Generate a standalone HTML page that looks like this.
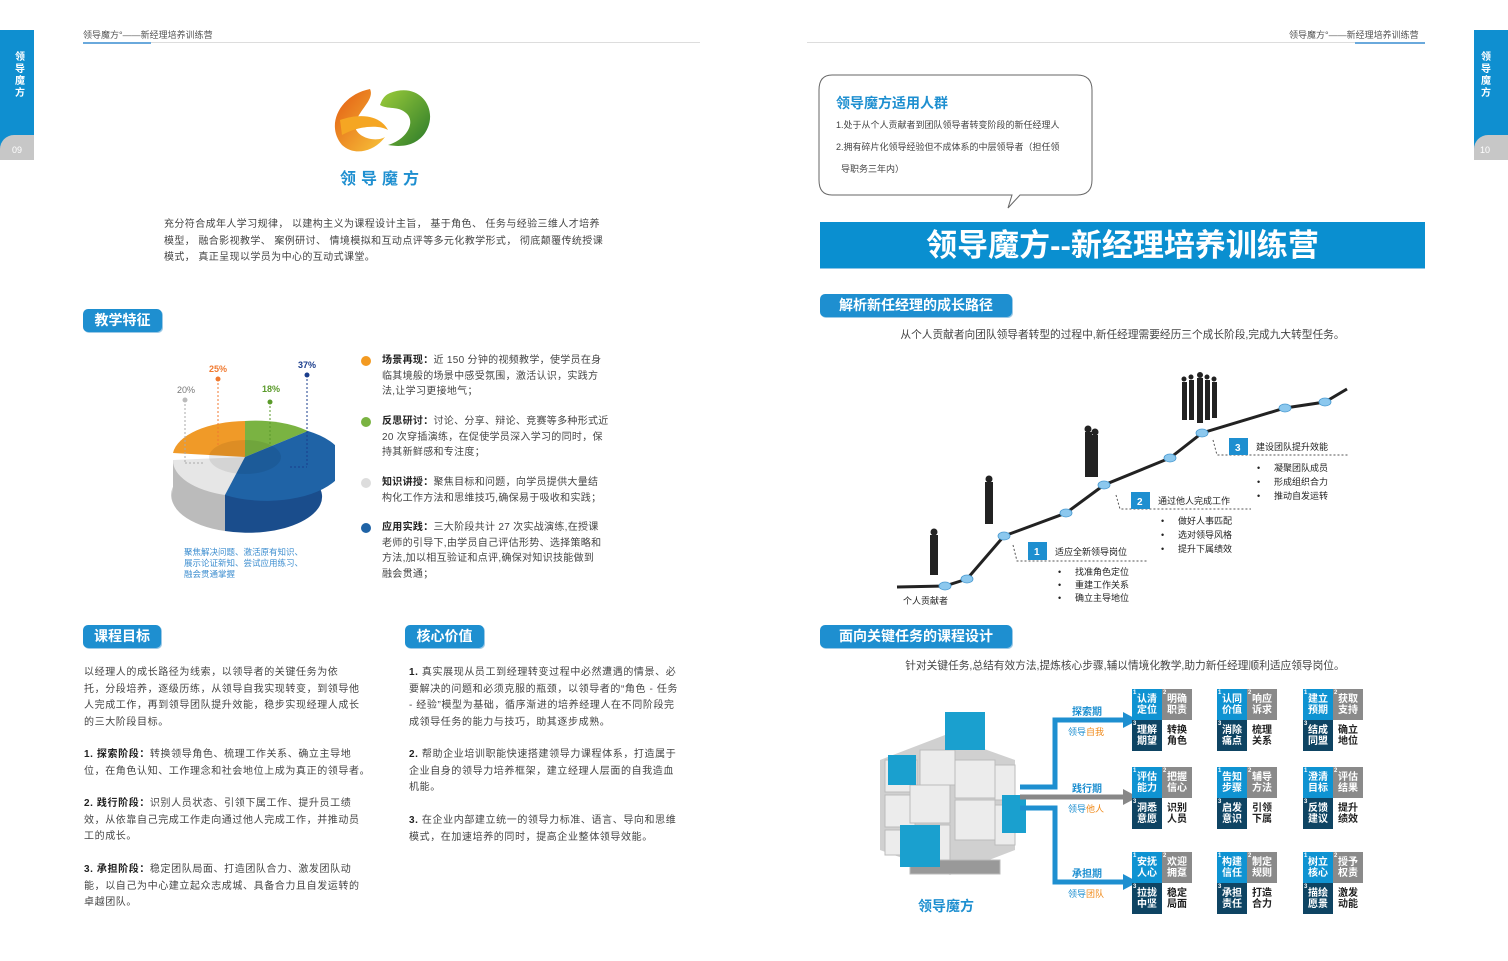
<!DOCTYPE html>
<html><head><meta charset="utf-8">
<style>
*{margin:0;padding:0;box-sizing:border-box}
body{width:1508px;height:961px;background:#fff;position:relative;overflow:hidden;font-family:"Liberation Sans","Noto Sans CJK SC",sans-serif;color:#444}
.a{position:absolute}
.t{font-size:10px;line-height:16.5px;color:#444;white-space:nowrap;letter-spacing:0.6px}
.badge{position:absolute;background:#1e8fd0;color:#fff;font-weight:bold;font-size:14px;border-radius:5px;text-align:center;line-height:23px;box-shadow:1px 1px 0 #9cc9e6}
.hdr{font-size:9px;color:#555}
b{color:#222}
.blk{position:absolute;width:60px;height:62px}
.blk div{position:absolute;width:30px;height:31px;font-size:10px;font-weight:bold;line-height:11px;text-align:center;padding-top:5px}
.c1{left:0;top:0;background:#0f93d2;color:#fff}
.c2{left:30px;top:0;background:#8a8a8a;color:#fff}
.c3{left:0;top:31px;background:#0e4463;color:#fff}
.c4{left:30px;top:31px;color:#222;font-weight:normal}
.blk sup{position:absolute;left:1px;top:-1px;font-size:6px;color:#fff}
</style></head><body>

<!-- left tab -->
<div class="a" style="left:0;top:30px;width:34px;height:130px;background:#0f8fd0"></div>
<div class="a" style="left:0;top:135px;width:34px;height:25px;background:#c7c7c7;border-radius:14px 0 0 0"></div>
<div class="a" style="left:15px;top:52px;width:14px;font-size:10px;font-weight:bold;color:#fff;line-height:12px">领导魔方</div>
<div class="a" style="left:12px;top:145px;font-size:9px;color:#fff">09</div>
<!-- right tab -->
<div class="a" style="left:1474px;top:30px;width:34px;height:130px;background:#0f8fd0"></div>
<div class="a" style="left:1474px;top:135px;width:34px;height:25px;background:#c7c7c7;border-radius:14px 0 0 0"></div>
<div class="a" style="left:1481px;top:52px;width:14px;font-size:10px;font-weight:bold;color:#fff;line-height:12px">领导魔方</div>
<div class="a" style="left:1480px;top:145px;font-size:9px;color:#fff">10</div>

<!-- headers -->
<div class="a hdr" style="left:83px;top:28px">领导魔方°——新经理培养训练营</div>
<div class="a" style="left:83px;top:42px;width:617px;height:1px;background:#ddd"></div>
<div class="a" style="left:83px;top:42px;width:68px;height:2px;background:#6aa9dc"></div>
<div class="a hdr" style="left:1289px;top:28px">领导魔方°——新经理培养训练营</div>
<div class="a" style="left:807px;top:42px;width:618px;height:1px;background:#ddd"></div>
<div class="a" style="left:1355px;top:42px;width:70px;height:2px;background:#6aa9dc"></div>

<!-- logo -->
<svg class="a" style="left:330px;top:85px" width="110" height="75">
<defs><linearGradient id="og" x1="0" y1="0" x2="1" y2="1"><stop offset="0" stop-color="#e35a12"/><stop offset="1" stop-color="#f7c43a"/></linearGradient>
<linearGradient id="gg" x1="0" y1="0" x2="1" y2="1"><stop offset="0" stop-color="#9ccc3a"/><stop offset="1" stop-color="#2a7a2a"/></linearGradient></defs>
<path d="M40 4 C10 10 -5 40 12 60 C25 72 45 66 55 52 C45 58 25 52 25 40 C28 25 45 15 40 4Z" fill="url(#og)"/>
<path d="M10 35 C30 28 50 30 58 45 C50 40 30 40 12 50Z" fill="#f5a623"/>
<path d="M60 8 C90 -4 110 25 95 48 C85 62 70 62 58 60 C75 55 85 40 78 30 C70 20 58 25 50 20 C52 14 55 10 60 8Z" fill="url(#gg)"/>
</svg>
<div class="a" style="left:340px;top:165px;font-size:16px;font-weight:bold;color:#1e8fd0;letter-spacing:5px">领导魔方</div>

<div class="a t" style="left:164px;top:217px;letter-spacing:0.4px">充分符合成年人学习规律， 以建构主义为课程设计主旨， 基于角色、 任务与经验三维人才培养<br>模型， 融合影视教学、 案例研讨、 情境模拟和互动点评等多元化教学形式， 彻底颠覆传统授课<br>模式， 真正呈现以学员为中心的互动式课堂。</div>

<div class="badge" style="left:83px;top:309px;width:79px">教学特征</div>

<!-- pie -->
<svg class="a" style="left:165px;top:355px" width="170" height="190">
<ellipse cx="80" cy="140" rx="74" ry="36" fill="#ccc"/>
<path d="M8 105 L8 135 A74 36 0 0 0 60 176 L60 140 Z" fill="#bbb"/>
<path d="M60 140 L60 176 A74 36 0 0 0 153 130 L153 100 Z" fill="#1a4d8c"/>
<path d="M80 102 L8 105 A74 36 0 0 0 60 140 Z" fill="#e6e6e6"/>
<path d="M80 102 L8 98 A74 36 0 0 1 80 66 Z" fill="#f09a28"/>
<path d="M80 102 L80 66 A74 36 0 0 1 143 76 Z" fill="#7ab342"/>
<path d="M80 102 L143 76 A74 36 0 0 1 60 140 Z" fill="#1f63a6"/>
<ellipse cx="80" cy="102" rx="36" ry="17" fill="#000" opacity="0.08"/>
<g stroke-dasharray="2,2" stroke-width="1" fill="none">
<line x1="20" y1="45" x2="20" y2="108" stroke="#aaa"/><line x1="20" y1="108" x2="40" y2="108" stroke="#aaa"/>
<line x1="53" y1="24" x2="53" y2="90" stroke="#f07a30"/>
<line x1="105" y1="47" x2="105" y2="90" stroke="#5a9a2a"/>
<line x1="142" y1="20" x2="142" y2="112" stroke="#1a3d8c"/><line x1="125" y1="112" x2="142" y2="112" stroke="#1a3d8c"/>
</g>
<circle cx="20" cy="45" r="2.5" fill="#bbb"/><circle cx="53" cy="24" r="2.5" fill="#f07a30"/><circle cx="105" cy="47" r="2.5" fill="#5a9a2a"/><circle cx="142" cy="20" r="2.5" fill="#1a3d8c"/>
<text x="12" y="38" font-size="9" fill="#777">20%</text>
<text x="44" y="17" font-size="9" fill="#f07a30" font-weight="bold">25%</text>
<text x="97" y="37" font-size="9" fill="#5a9a2a" font-weight="bold">18%</text>
<text x="133" y="13" font-size="9" fill="#1a3d8c" font-weight="bold">37%</text>
</svg>
<div class="a" style="left:184px;top:547px;font-size:8.5px;line-height:11px;color:#3f8fd0;white-space:nowrap">聚焦解决问题、激活原有知识、<br>展示论证新知、尝试应用练习、<br>融会贯通掌握</div>

<div class="a" style="left:361px;top:356px;width:10px;height:10px;border-radius:50%;background:#f39a21"></div>
<div class="a" style="left:361px;top:417px;width:10px;height:10px;border-radius:50%;background:#7ab342"></div>
<div class="a" style="left:361px;top:478px;width:10px;height:10px;border-radius:50%;background:#ddd"></div>
<div class="a" style="left:361px;top:523px;width:10px;height:10px;border-radius:50%;background:#1f63a6"></div>
<div class="a t" style="left:382px;top:353px;line-height:15.5px;letter-spacing:0.3px"><b>场景再现：</b>近 150 分钟的视频教学，使学员在身<br>临其境般的场景中感受氛围，激活认识，实践方<br>法,让学习更接地气；</div>
<div class="a t" style="left:382px;top:414px;line-height:15.5px;letter-spacing:0.3px"><b>反思研讨：</b>讨论、分享、辩论、竞赛等多种形式近<br>20 次穿插演练，在促使学员深入学习的同时，保<br>持其新鲜感和专注度；</div>
<div class="a t" style="left:382px;top:475px;line-height:15.5px;letter-spacing:0.3px"><b>知识讲授：</b>聚焦目标和问题，向学员提供大量结<br>构化工作方法和思维技巧,确保易于吸收和实践；</div>
<div class="a t" style="left:382px;top:520px;line-height:15.5px;letter-spacing:0.3px"><b>应用实践：</b>三大阶段共计 27 次实战演练,在授课<br>老师的引导下,由学员自己评估形势、选择策略和<br>方法,加以相互验证和点评,确保对知识技能做到<br>融会贯通；</div>

<div class="badge" style="left:83px;top:625px;width:78px">课程目标</div>
<div class="badge" style="left:405px;top:625px;width:79px">核心价值</div>

<div class="a t" style="left:84px;top:665px">以经理人的成长路径为线索，以领导者的关键任务为依<br>托，分段培养，逐级历练，从领导自我实现转变，到领导他<br>人完成工作，再到领导团队提升效能，稳步实现经理人成长<br>的三大阶段目标。</div>
<div class="a t" style="left:84px;top:747px"><b>1. 探索阶段：</b>转换领导角色、梳理工作关系、确立主导地<br>位，在角色认知、工作理念和社会地位上成为真正的领导者。</div>
<div class="a t" style="left:84px;top:796px"><b>2. 践行阶段：</b>识别人员状态、引领下属工作、提升员工绩<br>效，从依靠自己完成工作走向通过他人完成工作，并推动员<br>工的成长。</div>
<div class="a t" style="left:84px;top:862px"><b>3. 承担阶段：</b>稳定团队局面、打造团队合力、激发团队动<br>能，以自己为中心建立起众志成城、具备合力且自发运转的<br>卓越团队。</div>

<div class="a t" style="left:409px;top:665px"><b>1.</b> 真实展现从员工到经理转变过程中必然遭遇的情景、必<br>要解决的问题和必须克服的瓶颈，以领导者的“角色 - 任务<br>- 经验”模型为基础，循序渐进的培养经理人在不同阶段完<br>成领导任务的能力与技巧，助其逐步成熟。</div>
<div class="a t" style="left:409px;top:747px"><b>2.</b> 帮助企业培训职能快速搭建领导力课程体系，打造属于<br>企业自身的领导力培养框架，建立经理人层面的自我造血<br>机能。</div>
<div class="a t" style="left:409px;top:813px"><b>3.</b> 在企业内部建立统一的领导力标准、语言、导向和思维<br>模式，在加速培养的同时，提高企业整体领导效能。</div>

<!-- right page -->
<svg class="a" style="left:815px;top:72px" width="285" height="140">
<path d="M17 3 H262 Q277 3 277 18 V108 Q277 123 262 123 H205 L193 136 L197 123 H17 Q4 123 4 108 V18 Q4 3 17 3Z" fill="#fff" stroke="#666" stroke-width="1"/>
</svg>
<div class="a" style="left:836px;top:93px;font-size:14px;font-weight:bold;color:#1e8fd0">领导魔方适用人群</div>
<div class="a" style="left:836px;top:114px;font-size:9px;line-height:22px;color:#444;white-space:nowrap">1.处于从个人贡献者到团队领导者转变阶段的新任经理人<br>2.拥有碎片化领导经验但不成体系的中层领导者（担任领<br>&nbsp;&nbsp;导职务三年内）</div>

<div class="a" style="left:820px;top:222px;width:605px;height:47px;background:#0a8fd0;color:#fff;font-size:31px;font-weight:bold;text-align:center;line-height:47px;border-bottom:1px solid #8cc4e6">领导魔方--新经理培养训练营</div>

<div class="badge" style="left:820px;top:294px;width:192px">解析新任经理的成长路径</div>
<div class="a" style="left:820px;top:327px;width:605px;text-align:center;font-size:10.7px;color:#444">从个人贡献者向团队领导者转型的过程中,新任经理需要经历三个成长阶段,完成九大转型任务。</div>

<svg class="a" style="left:880px;top:370px" width="490" height="245">
<polyline points="17,217 65,216 87,209 124,166 186,143 224,115 290,88 322,63 405,38 445,32 467,19" fill="none" stroke="#222" stroke-width="3"/>
<g fill="#8cc8ee" stroke="#4a9ad0" stroke-width="0.8">
<ellipse cx="65" cy="216" rx="6" ry="4"/><ellipse cx="87" cy="209" rx="6" ry="4"/><ellipse cx="124" cy="166" rx="6" ry="4"/><ellipse cx="186" cy="143" rx="6" ry="4"/><ellipse cx="224" cy="115" rx="6" ry="4"/><ellipse cx="290" cy="88" rx="6" ry="4"/><ellipse cx="322" cy="63" rx="6" ry="4"/><ellipse cx="405" cy="38" rx="6" ry="4"/><ellipse cx="445" cy="32" rx="6" ry="4"/>
</g>
<g fill="none" stroke="#555" stroke-dasharray="2,2">
<polyline points="133,175 137,191 268,191"/><polyline points="236,125 240,139 371,139"/><polyline points="333,70 337,85 468,85"/>
</g>
<g fill="#222">
<rect x="50" y="165" width="8" height="40"/><circle cx="54" cy="162" r="3.5"/>
<rect x="105" y="112" width="8" height="42"/><circle cx="109" cy="109" r="3.5"/>
<rect x="205" y="62" width="7" height="45"/><circle cx="208" cy="59" r="3.5"/><rect x="212" y="65" width="6" height="42"/><circle cx="215" cy="62" r="3.5"/>
<rect x="302" y="12" width="5" height="38"/><rect x="309" y="10" width="5" height="40"/><rect x="317" y="8" width="6" height="45"/><rect x="325" y="10" width="5" height="40"/><rect x="332" y="12" width="5" height="36"/>
<circle cx="304" cy="9" r="2.5"/><circle cx="311" cy="7" r="2.5"/><circle cx="320" cy="5" r="3"/><circle cx="327" cy="7" r="2.5"/><circle cx="334" cy="9" r="2.5"/>
</g>
<rect x="148" y="172" width="19" height="18" fill="#1e8fd0"/><text x="154" y="185" font-size="10" fill="#fff" font-weight="bold">1</text>
<rect x="251" y="122" width="19" height="17" fill="#1e8fd0"/><text x="257" y="135" font-size="10" fill="#fff" font-weight="bold">2</text>
<rect x="349" y="68" width="19" height="17" fill="#1e8fd0"/><text x="355" y="81" font-size="10" fill="#fff" font-weight="bold">3</text>
<g font-size="9" fill="#222">
<text x="175" y="185">适应全新领导岗位</text><text x="278" y="134">通过他人完成工作</text><text x="376" y="80">建设团队提升效能</text>
<text x="23" y="234">个人贡献者</text>
<text x="178" y="205">•</text><text x="195" y="205">找准角色定位</text>
<text x="178" y="218">•</text><text x="195" y="218">重建工作关系</text>
<text x="178" y="231">•</text><text x="195" y="231">确立主导地位</text>
<text x="281" y="154">•</text><text x="298" y="154">做好人事匹配</text>
<text x="281" y="168">•</text><text x="298" y="168">选对领导风格</text>
<text x="281" y="182">•</text><text x="298" y="182">提升下属绩效</text>
<text x="377" y="101">•</text><text x="394" y="101">凝聚团队成员</text>
<text x="377" y="115">•</text><text x="394" y="115">形成组织合力</text>
<text x="377" y="129">•</text><text x="394" y="129">推动自发运转</text>
</g>
</svg>

<div class="badge" style="left:820px;top:625px;width:192px">面向关键任务的课程设计</div>
<div class="a" style="left:820px;top:658px;width:610px;text-align:center;font-size:10.7px;color:#444">针对关键任务,总结有效方法,提炼核心步骤,辅以情境化教学,助力新任经理顺利适应领导岗位。</div>

<!-- cube -->
<svg class="a" style="left:870px;top:700px" width="270" height="195">
<path d="M10 60 L75 35 L145 60 L145 150 L80 175 L10 150Z" fill="#d0d0d0"/>
<g fill="#ececec" stroke="#bbb" stroke-width="1">
<rect x="15" y="60" width="32" height="32"/><rect x="15" y="95" width="30" height="32"/><rect x="15" y="130" width="30" height="25"/>
<rect x="50" y="50" width="35" height="35"/><rect x="85" y="60" width="40" height="38"/><rect x="85" y="100" width="40" height="40"/>
<rect x="125" y="65" width="20" height="35"/><rect x="125" y="105" width="20" height="40"/>
<rect x="40" y="85" width="40" height="38"/><rect x="45" y="125" width="35" height="35"/>
<rect x="40" y="160" width="90" height="14" fill="#999"/>
</g>
<g fill="#1aa0cf"><rect x="18" y="55" width="28" height="30"/><rect x="75" y="12" width="40" height="38"/><rect x="30" y="125" width="40" height="42"/><rect x="132" y="95" width="24" height="38"/></g>
<path d="M150 87 H185 V20 H255" fill="none" stroke="#1e8fd0" stroke-width="5"/><path d="M253 12 L268 20 L253 28Z" fill="#1e8fd0"/>
<path d="M150 97 H255" fill="none" stroke="#888" stroke-width="5"/><path d="M253 89 L268 97 L253 105Z" fill="#888"/>
<path d="M150 108 H185 V182 H255" fill="none" stroke="#1e8fd0" stroke-width="5"/><path d="M253 174 L268 182 L253 190Z" fill="#1e8fd0"/>
</svg>
<div class="a" style="left:1072px;top:703px;font-size:10px;font-weight:bold;color:#1e8fd0">探索期</div>
<div class="a" style="left:1068px;top:725px;font-size:9px;color:#1e8fd0">领导<span style="color:#f08a1a">自我</span></div>
<div class="a" style="left:1072px;top:780px;font-size:10px;font-weight:bold;color:#1e8fd0">践行期</div>
<div class="a" style="left:1068px;top:802px;font-size:9px;color:#1e8fd0">领导<span style="color:#f08a1a">他人</span></div>
<div class="a" style="left:1072px;top:865px;font-size:10px;font-weight:bold;color:#1e8fd0">承担期</div>
<div class="a" style="left:1068px;top:887px;font-size:9px;color:#1e8fd0">领导<span style="color:#f08a1a">团队</span></div>
<div class="a" style="left:918px;top:896px;font-size:14px;font-weight:bold;color:#1e8fd0">领导魔方</div>

<!-- grid -->
<div class="blk" style="left:1132px;top:689px"><div class="c1"><sup>1</sup>认清<br>定位</div><div class="c2"><sup>2</sup>明确<br>职责</div><div class="c3"><sup>3</sup>理解<br>期望</div><div class="c4">转换<br>角色</div></div>
<div class="blk" style="left:1217px;top:689px"><div class="c1"><sup>1</sup>认同<br>价值</div><div class="c2"><sup>2</sup>响应<br>诉求</div><div class="c3"><sup>3</sup>消除<br>痛点</div><div class="c4">梳理<br>关系</div></div>
<div class="blk" style="left:1303px;top:689px"><div class="c1"><sup>1</sup>建立<br>预期</div><div class="c2"><sup>2</sup>获取<br>支持</div><div class="c3"><sup>3</sup>结成<br>同盟</div><div class="c4">确立<br>地位</div></div>
<div class="blk" style="left:1132px;top:767px"><div class="c1"><sup>1</sup>评估<br>能力</div><div class="c2"><sup>2</sup>把握<br>信心</div><div class="c3"><sup>3</sup>洞悉<br>意愿</div><div class="c4">识别<br>人员</div></div>
<div class="blk" style="left:1217px;top:767px"><div class="c1"><sup>1</sup>告知<br>步骤</div><div class="c2"><sup>2</sup>辅导<br>方法</div><div class="c3"><sup>3</sup>启发<br>意识</div><div class="c4">引领<br>下属</div></div>
<div class="blk" style="left:1303px;top:767px"><div class="c1"><sup>1</sup>澄清<br>目标</div><div class="c2"><sup>2</sup>评估<br>结果</div><div class="c3"><sup>3</sup>反馈<br>建议</div><div class="c4">提升<br>绩效</div></div>
<div class="blk" style="left:1132px;top:852px"><div class="c1"><sup>1</sup>安抚<br>人心</div><div class="c2"><sup>2</sup>欢迎<br>拥趸</div><div class="c3"><sup>3</sup>拉拢<br>中坚</div><div class="c4">稳定<br>局面</div></div>
<div class="blk" style="left:1217px;top:852px"><div class="c1"><sup>1</sup>构建<br>信任</div><div class="c2"><sup>2</sup>制定<br>规则</div><div class="c3"><sup>3</sup>承担<br>责任</div><div class="c4">打造<br>合力</div></div>
<div class="blk" style="left:1303px;top:852px"><div class="c1"><sup>1</sup>树立<br>核心</div><div class="c2"><sup>2</sup>授予<br>权责</div><div class="c3"><sup>3</sup>描绘<br>愿景</div><div class="c4">激发<br>动能</div></div>

</body></html>
